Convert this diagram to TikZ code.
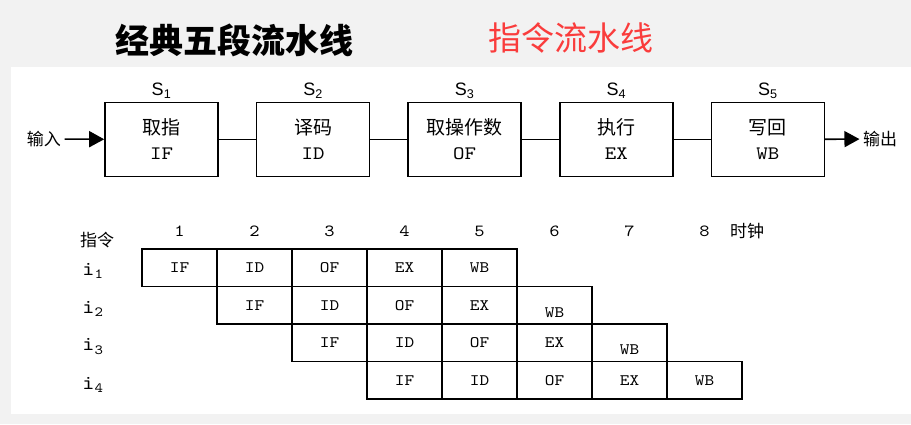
\documentclass[tikz,border=0pt]{standalone}
\usepackage{fontspec}
\usepackage{xcolor}
\usepackage{tikz}
\usetikzlibrary{arrows.meta, positioning}
\newfontfamily\cjk{Noto Sans CJK SC}
\newfontfamily\sansS{Liberation Sans}
\newfontfamily\latinmono{lmmono10-regular.otf}[FakeStretch=1.15]
\definecolor{cBack}{RGB}{242,242,242}
\definecolor{cRed}{RGB}{250,60,60}
\newcommand\lowWB{\smash{\raisebox{-12pt}{WB}}}
\tikzset{
	stage/.style   ={rectangle, draw=black, line width=1.6pt, minimum width=113pt, minimum height=74pt, align=center, inner sep=0pt, font=\fontsize{19}{25}\selectfont},
	cell/.style    ={rectangle, draw=black, line width=1.5pt, minimum width=75pt, minimum height=37.5pt, inner sep=0pt, font=\latinmono\fontsize{16}{16}\selectfont},
	stagelbl/.style={font=\sansS\fontsize{18}{18}\selectfont, inner sep=1pt},
	clock/.style   ={font=\latinmono\fontsize{17}{17}\selectfont},
	rowlbl/.style  ={font=\latinmono\fontsize{20}{20}\selectfont},
	cjklbl/.style  ={font=\cjk\fontsize{17}{17}\selectfont},
	link/.style    ={line width=1.6pt},
	flowarrow/.style={-{Triangle[length=15pt,width=16pt]}, line width=1.6pt},
}
\begin{document}
\begin{tikzpicture}[x=1pt, y=-1pt]
	\useasboundingbox (0,0) rectangle (911,424);
	\fill[cBack] (0,0) rectangle (911,424);
	\fill[white] (11,67) rectangle (911,414);
	% titles
	\node[font=\cjk\bfseries\fontsize{34}{34}\selectfont] (title) at (234,40) {经典五段流水线};
	\node[font=\cjk\fontsize{33}{33}\selectfont, text=cRed] (subtitle) at (571,38) {指令流水线};
	% the five stages
	\node[stage] (s1) at (161.5,139.5) {{\cjk 取指}\\{\latinmono IF}};
	\node[stage, right=37pt of s1] (s2) {{\cjk 译码}\\{\latinmono ID}};
	\node[stage, right=37pt of s2] (s3) {{\cjk 取操作数}\\{\latinmono OF}};
	\node[stage, right=37pt of s3] (s4) {{\cjk 执行}\\{\latinmono EX}};
	\node[stage, right=37pt of s4] (s5) {{\cjk 写回}\\{\latinmono WB}};
	\foreach \i in {1,...,5}
		\node[stagelbl, above=2pt of s\i] (l\i) {S\textsubscript{\i}};
	\draw[link] (s1) -- (s2);
	\draw[link] (s2) -- (s3);
	\draw[link] (s3) -- (s4);
	\draw[link] (s4) -- (s5);
	\node[cjklbl] (in) at (44,139) {输入};
	\node[cjklbl] (out) at (880,139) {输出};
	\draw[flowarrow] (in) -- (s1);
	\draw[flowarrow] (s5) -- (out);
	% space-time table
	\node[cjklbl] (instr) at (97,240) {指令};
	\foreach \j in {1,...,8}
		\node[clock] (t\j) at (142+75*\j-37.5,231) {\j};
	\node[cjklbl] (clk) at (747,231) {时钟};
	\foreach \r/\names in {1/{IF,ID,OF,EX,WB}, 2/{IF,ID,OF,EX,\lowWB}, 3/{IF,ID,OF,EX,\lowWB}, 4/{IF,ID,OF,EX,WB}} {
		\node[rowlbl] (i\r) at (93,270+38*\r-37.5) {i\textsubscript{\r}};
		\foreach \st [count=\k] in \names {
			\pgfmathtruncatemacro\col{\r+\k-1}
			\node[cell] (c\r-\col) at (142+75*\col-37.5,249+37.5*\r-18.75) {\st};
		}
	}
\end{tikzpicture}
\end{document}
